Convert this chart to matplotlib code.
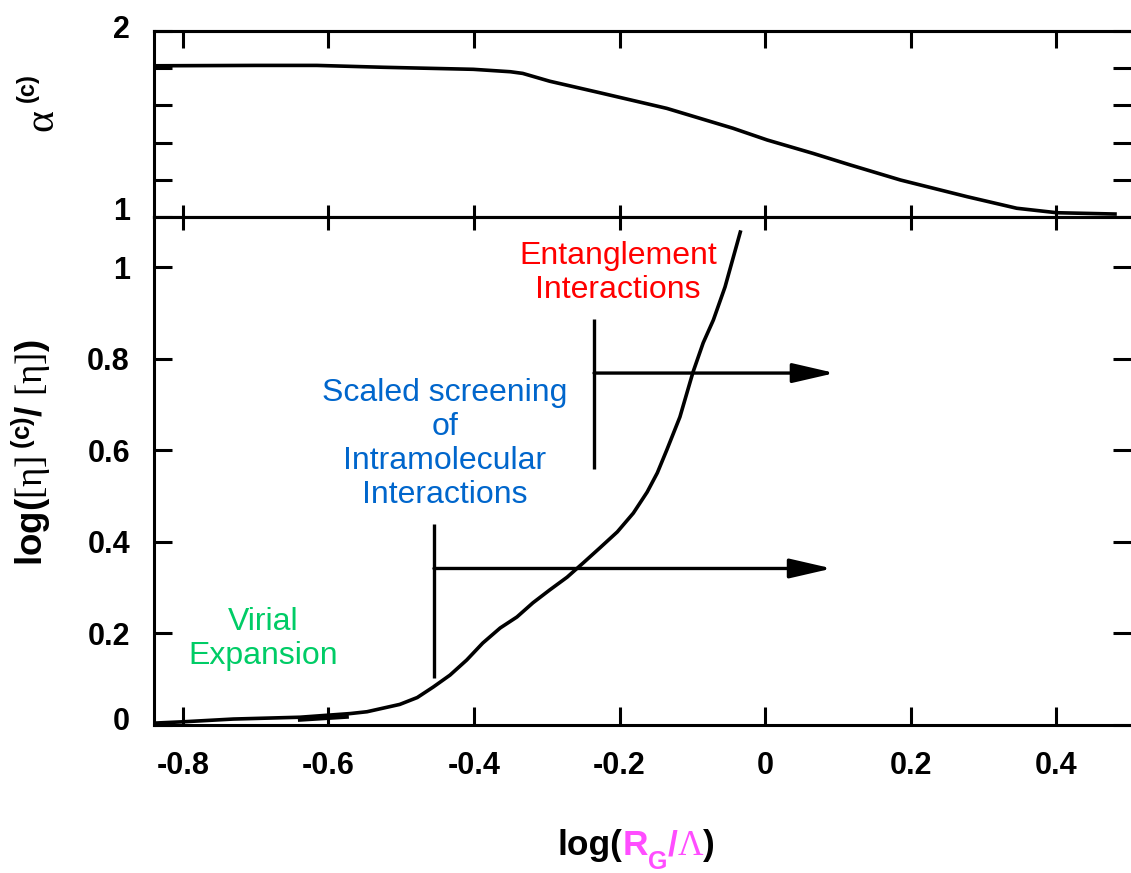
import numpy as np
import matplotlib
matplotlib.use("Agg")
import matplotlib.pyplot as plt
from matplotlib.transforms import ScaledTranslation

plt.rcParams['font.family'] = ['Liberation Sans', 'DejaVu Sans']
plt.rcParams['mathtext.fontset'] = 'custom'
plt.rcParams['mathtext.rm'] = 'Liberation Serif'
plt.rcParams['mathtext.bf'] = 'Liberation Sans:bold'
plt.rcParams['mathtext.it'] = 'Liberation Serif:italic'

# upper panel: alpha^(c) vs log(R_G/Lambda)
alpha_x = [-0.841, -0.70, -0.616, -0.525, -0.401, -0.350, -0.333, -0.296, -0.227,
           -0.135, -0.044, 0.003, 0.066, 0.117, 0.186, 0.278, 0.346, 0.401, 0.481]
alpha_y = [1.813, 1.815, 1.815, 1.805, 1.794, 1.781, 1.772, 1.730, 1.668,
           1.584, 1.477, 1.414, 1.342, 1.280, 1.199, 1.109, 1.047, 1.023, 1.016]

# lower panel: log([eta]^(c)/[eta]) vs log(R_G/Lambda)
eta_x = [-0.841, -0.800, -0.731, -0.639, -0.570, -0.547, -0.502, -0.478, -0.456,
         -0.433, -0.410, -0.388, -0.364, -0.341, -0.319, -0.296, -0.272, -0.250,
         -0.227, -0.203, -0.181, -0.162, -0.148, -0.135, -0.117, -0.099, -0.085,
         -0.071, -0.055, -0.034]
eta_y = [0.004, 0.007, 0.013, 0.017, 0.025, 0.029, 0.045, 0.060, 0.083,
         0.109, 0.142, 0.179, 0.212, 0.236, 0.267, 0.295, 0.323, 0.354,
         0.387, 0.422, 0.463, 0.509, 0.551, 0.601, 0.673, 0.771, 0.835,
         0.885, 0.957, 1.077]
# short overlapping stroke near the start of the curve
blip_x = [-0.642, -0.572]
blip_y = [0.011, 0.018]

# regime markers: (x of bar, bar bottom, bar top, arrow y, arrow end x)
markers = [(-0.455, 0.102, 0.439, 0.342, 0.092),
           (-0.235, 0.559, 0.887, 0.769, 0.096)]

regions = [("Virial\nExpansion", -0.69, 0.188, "#00cc66"),
           ("Scaled screening\nof\nIntramolecular\nInteractions", -0.44, 0.614, "#0066cc"),
           ("Entanglement\nInteractions", -0.202, 0.988, "#ff0000")]

x_ticks = [-0.8, -0.6, -0.4, -0.2, 0, 0.2, 0.4]
x_labels = ["-0.8", "-0.6", "-0.4", "-0.2", "0", "0.2", "0.4"]
top_yticks = [1, 2]
top_ylabels = ["1", "2"]
top_yminor = [1.2, 1.4, 1.6, 1.8]
bot_yticks = [0, 0.2, 0.4, 0.6, 0.8, 1.0]
bot_ylabels = ["0", "0.2", "0.4", "0.6", "0.8", "1"]

# x axis title pieces: text, colour, size, font, bold, drop (px)
MAG = '#ff4dff'
xtitle_parts = [("log(", 'k', 25.5, 'Liberation Sans', True, 0),
                ("R", MAG, 25.5, 'Liberation Sans', True, 0),
                ("G", MAG, 18, 'Liberation Sans', True, 14),
                ("/", MAG, 25.5, 'Liberation Sans', True, 0),
                ("\u039b", MAG, 25.5, 'Liberation Serif', False, 0),
                (")", 'k', 25.5, 'Liberation Sans', True, 0)]

W, H = 1131, 873
fig = plt.figure(figsize=(W / 100, H / 100), dpi=100)
left = 153.5 / W
ax_top = fig.add_axes([left, 1 - 217 / H, 1.0 - left, (217 - 31) / H])
ax_bot = fig.add_axes([left, 1 - 725 / H, 1.0 - left, (725 - 217) / H])

LW = 2.2
TICKFONT = dict(fontsize=22, fontweight='bold')

for ax in (ax_top, ax_bot):
    ax.set_xlim(-0.8405, 0.503)
    ax.spines['right'].set_visible(False)
    for s in ('left', 'top', 'bottom'):
        ax.spines[s].set_linewidth(LW)
    ax.set_xticks(x_ticks)

# top panel
ax_top.plot(alpha_x, alpha_y, color='k', lw=2.6, solid_joinstyle='round')
ax_top.set_ylim(1, 2)
ax_top.set_yticks(top_yticks)
ax_top.set_yticklabels(top_ylabels, **TICKFONT)
ax_top.set_yticks(top_yminor, minor=True)
ax_top.tick_params(axis='y', which='both', direction='in', left=True, right=True,
                   length=13, width=LW, pad=17)
ax_top.tick_params(axis='x', which='major', direction='in', bottom=True, top=False,
                   length=9, width=LW, labelbottom=False)
sec_top = ax_top.secondary_xaxis('top')
sec_top.set_xticks(x_ticks)
sec_top.tick_params(axis='x', direction='in', length=12.5, width=LW, labeltop=False)
sec_top.spines['top'].set_linewidth(LW)

# alpha^(c) axis title, drawn as two rotated pieces
fig.text(42 / W, 1 - 120 / H, "\u03b1", family='Liberation Serif', fontsize=30,
         rotation=90, ha='center', va='center')
fig.text(27 / W, 1 - 88 / H, "(c)", fontsize=17, fontweight='bold',
         rotation=90, ha='center', va='center')

# bottom panel
ax_bot.plot(eta_x, eta_y, color='k', lw=2.6, solid_joinstyle='round')
ax_bot.plot(blip_x, blip_y, color='k', lw=2.8, solid_capstyle='butt')
for bx, b0, b1, ay, ax_end in markers:
    ax_bot.plot([bx, bx], [b0, b1], color='k', lw=2.4, solid_capstyle='butt')
    ax_bot.annotate("", xy=(ax_end, ay), xytext=(bx, ay),
                    arrowprops=dict(arrowstyle="-|>,head_length=2.6,head_width=0.6",
                                    mutation_scale=10, lw=2.4, color='k',
                                    shrinkA=0, shrinkB=0))
for txt, tx, ty, col in regions:
    ax_bot.text(tx, ty, txt, color=col, fontsize=23, ha='center', va='center',
                multialignment='center', linespacing=1.17)

ax_bot.set_ylim(0, 1.11)
ax_bot.set_yticks(bot_yticks)
ax_bot.set_yticklabels(bot_ylabels, **TICKFONT)
ax_bot.set_xticklabels(x_labels, **TICKFONT)
ax_bot.tick_params(axis='y', direction='in', left=True, right=True,
                   length=13, width=LW, pad=17)
ax_bot.tick_params(axis='x', direction='in', bottom=True, top=False,
                   length=13, width=LW, pad=19)
sec_bot = ax_bot.secondary_xaxis('top')
sec_bot.set_xticks(x_ticks)
sec_bot.tick_params(axis='x', direction='in', length=9, width=LW, labeltop=False)
sec_bot.spines['top'].set_linewidth(LW)
ax_bot.set_ylabel(r"log($\mathrm{[\eta]}^{\ \mathbf{(c)}}$/ $\mathrm{[\eta]}$)",
                  fontsize=26.5, fontweight='bold')
ax_bot.yaxis.set_label_coords((53 - 153.5) / (W - 153.5), 0.535)


# small upward nudges on a few tick labels
def nudge(label, dy_px):
    label.set_transform(label.get_transform()
                        + ScaledTranslation(0, dy_px / 100, fig.dpi_scale_trans))


top_labs = ax_top.get_yticklabels()
nudge(top_labs[0], 9)
nudge(top_labs[1], 5)
nudge(ax_bot.get_yticklabels()[0], 7)

# x axis title, laid out piece by piece so each part keeps its colour
renderer = fig.canvas.get_renderer()
base_y = 855
pieces = []
for s, col, size, fam, bold, drop in xtitle_parts:
    t = fig.text(0, 0, s, color=col, fontsize=size, family=fam,
                 fontweight='bold' if bold else 'normal', ha='left', va='baseline')
    pieces.append((t, t.get_window_extent(renderer).width, drop))
total = sum(w for _, w, _ in pieces)
cursor = 636 - total / 2
for t, w, drop in pieces:
    t.set_position((cursor / W, 1 - (base_y + drop) / H))
    cursor += w

fig.savefig("out.png", dpi=100)
